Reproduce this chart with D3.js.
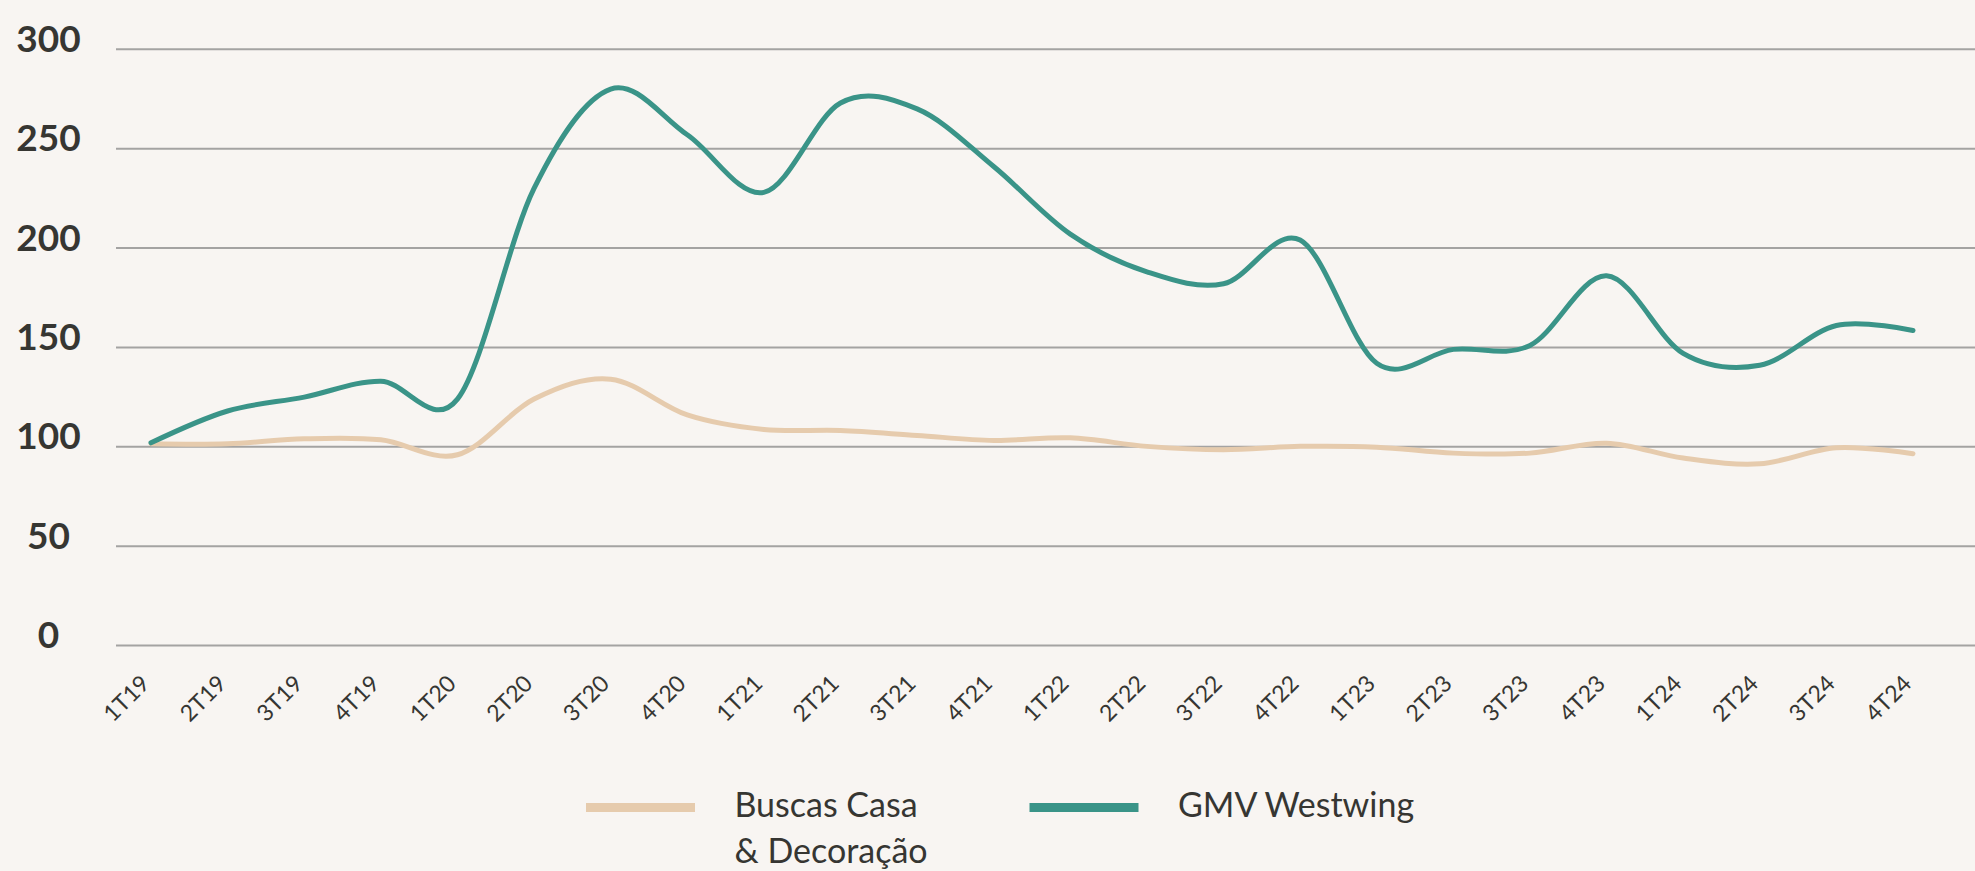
<!DOCTYPE html>
<html>
<head>
<meta charset="utf-8">
<script src="https://cdn.jsdelivr.net/npm/d3@7"></script>
<style>
  html, body { margin: 0; padding: 0; background: #f8f5f2; }
  svg { display: block; font-family: Lato, "Open Sans", sans-serif; }
</style>
</head>
<body>
<div id="chart"></div>
<script>
const width = 1975
const height = 871

/* data */
const quarters = [
  "1T19", "2T19", "3T19", "4T19",
  "1T20", "2T20", "3T20", "4T20",
  "1T21", "2T21", "3T21", "4T21",
  "1T22", "2T22", "3T22", "4T22",
  "1T23", "2T23", "3T23", "4T23",
  "1T24", "2T24", "3T24", "4T24"
]
const buscas = [
  101.5, 101.5, 104, 103.5,
  96, 124, 134, 116,
  108.7, 108.2, 105.7, 103.2,
  104.5, 100.2, 98.5, 100.2,
  99.8, 96.8, 96.8, 101.8,
  94.3, 91.4, 99.5, 96.5
]
const gmv = [
  102, 118, 125, 133,
  124, 230, 280, 257,
  228, 273, 270, 241,
  207, 188, 182, 204,
  142, 149, 151, 186,
  147, 141, 161, 158.5
]
const yTicks = [0, 50, 100, 150, 200, 250, 300]
const seriesNames = ["Buscas Casa\n& Decoração", "GMV Westwing"]

const colors = ["#e6cbad", "#3a9488"]
const textColor = "#363632"

const svg = d3.select("#chart").append("svg")
  .attr("width", width)
  .attr("height", height)

svg.append("rect")
  .attr("width", width)
  .attr("height", height)
  .attr("fill", "#f8f5f2")

const x = d3.scalePoint()
  .domain(quarters)
  .range([151, 1913])

const y = d3.scaleLinear()
  .domain([0, 300])
  .range([645.5, 49.3])

/* gridlines */
svg.append("g")
  .selectAll("line")
  .data(yTicks)
  .join("line")
  .attr("x1", 116)
  .attr("x2", width)
  .attr("y1", d => y(d))
  .attr("y2", d => y(d))
  .attr("stroke", "#a4a3a2")
  .attr("stroke-width", 2)

/* y labels */
svg.append("g")
  .selectAll("text")
  .data(yTicks)
  .join("text")
  .attr("x", 48.5)
  .attr("y", d => y(d) + 2.5)
  .attr("text-anchor", "middle")
  .attr("font-size", 37)
  .attr("font-weight", 700)
  .attr("fill", textColor)
  .text(d => d)

/* x labels, rotated */
svg.append("g")
  .selectAll("text")
  .data(quarters)
  .join("text")
  .attr("transform", d => `translate(${x(d)},685) rotate(-45)`)
  .attr("text-anchor", "end")
  .attr("font-size", 23)
  .attr("fill", textColor)
  .text(d => d)

/* lines */
const line = d3.line()
  .x((d, i) => x(quarters[i]))
  .y(d => y(d))
  .curve(d3.curveCardinal.tension(0))

const series = [buscas, gmv]
svg.append("g")
  .selectAll("path")
  .data(series)
  .join("path")
  .attr("d", d => line(d))
  .attr("fill", "none")
  .attr("stroke", (d, i) => colors[i])
  .attr("stroke-width", 5)
  .attr("stroke-linecap", "round")
  .attr("stroke-linejoin", "round")

/* legend */
const legendX = [586, 1029.5]
const legend = svg.append("g")
  .selectAll("g")
  .data(seriesNames)
  .join("g")
  .attr("transform", (d, i) => `translate(${legendX[i]},0)`)

legend.append("rect")
  .attr("x", 0)
  .attr("y", 803)
  .attr("width", 109)
  .attr("height", 9)
  .attr("fill", (d, i) => colors[i])

legend.append("text")
  .attr("x", 148.5)
  .attr("y", 817)
  .attr("font-size", 34)
  .attr("fill", textColor)
  .selectAll("tspan")
  .data(d => d.split("\n"))
  .join("tspan")
  .attr("x", 148.5)
  .attr("dy", (d, i) => i === 0 ? 0 : 46)
  .text(d => d)
</script>
</body>
</html>
